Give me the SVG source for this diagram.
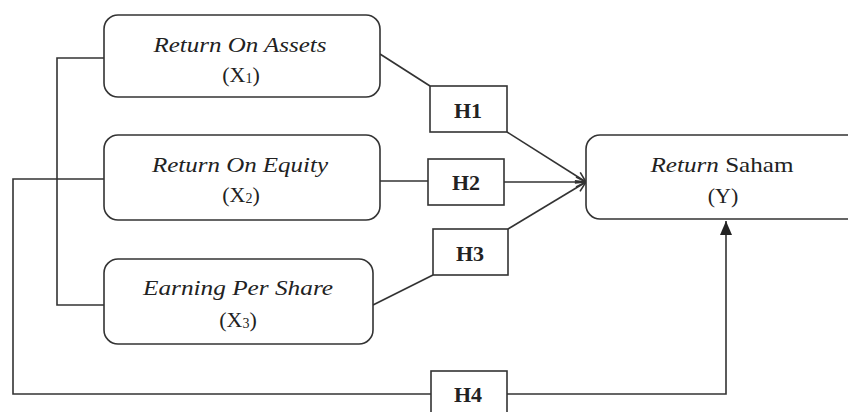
<svg xmlns="http://www.w3.org/2000/svg" width="848" height="412" viewBox="0 0 848 412">
<defs>
<style>
.box{fill:#fff;stroke:#333;stroke-width:1.6}
.ln{fill:none;stroke:#333;stroke-width:1.6}
.t{font-family:"Liberation Serif","Times New Roman",serif;font-size:22px;fill:#222;text-anchor:middle}
.i{font-style:italic}
.h{font-family:"Liberation Serif","Times New Roman",serif;font-size:22px;font-weight:bold;fill:#222;text-anchor:middle}
.sub{font-size:14px}
</style>
<marker id="open" viewBox="0 0 12 12" refX="11" refY="6" markerWidth="12" markerHeight="12" markerUnits="userSpaceOnUse" orient="auto">
<path d="M1,1 L11,6 L1,11" fill="none" stroke="#333" stroke-width="1.6"/>
</marker>
<marker id="fill" viewBox="0 0 14 12" refX="14" refY="6" markerWidth="14" markerHeight="12" markerUnits="userSpaceOnUse" orient="auto">
<path d="M0,0 L14,6 L0,12 Z" fill="#222"/>
</marker>
</defs>
<rect width="848" height="412" fill="#fff"/>
<g id="connectors">
<path class="ln" d="M104,58 H57 V305 H104"/>
<path class="ln" d="M104,179 H13 V394 H726 V221" marker-end="url(#fill)"/>
<line class="ln" x1="380" y1="54" x2="430" y2="86"/>
<line class="ln" x1="507" y1="132" x2="586" y2="182" marker-end="url(#open)"/>
<line class="ln" x1="380" y1="181" x2="428" y2="181"/>
<line class="ln" x1="504" y1="182" x2="586" y2="182" marker-end="url(#open)"/>
<line class="ln" x1="373" y1="305" x2="433" y2="275"/>
<line class="ln" x1="508" y1="229" x2="586" y2="182" marker-end="url(#open)"/>
</g>
<g id="roa">
<rect class="box" x="104" y="15" width="276" height="82" rx="14"/>
<text class="t i" x="240" y="52" textLength="173" lengthAdjust="spacingAndGlyphs">Return On Assets</text>
<text class="t" x="241" y="82">(X<tspan class="sub" dy="1">1</tspan><tspan dy="-1">)</tspan></text>
</g>
<g id="roe">
<rect class="box" x="104" y="135" width="276" height="85" rx="14"/>
<text class="t i" x="240" y="172" textLength="176" lengthAdjust="spacingAndGlyphs">Return On Equity</text>
<text class="t" x="241" y="202">(X<tspan class="sub" dy="1">2</tspan><tspan dy="-1">)</tspan></text>
</g>
<g id="eps">
<rect class="box" x="104" y="259" width="269" height="85" rx="14"/>
<text class="t i" x="238" y="295" textLength="190" lengthAdjust="spacingAndGlyphs">Earning Per Share</text>
<text class="t" x="238" y="327">(X<tspan class="sub" dy="1">3</tspan><tspan dy="-1">)</tspan></text>
</g>
<g id="saham">
<rect class="box" x="586" y="135" width="280" height="84" rx="14"/>
<text class="t" x="722" y="172" textLength="143" lengthAdjust="spacingAndGlyphs"><tspan class="i">Return</tspan> Saham</text>
<text class="t" x="723" y="203">(Y)</text>
</g>
<g id="h1">
<rect class="box" x="430" y="86" width="77" height="46"/>
<text class="h" x="468" y="118">H1</text>
</g>
<g id="h2">
<rect class="box" x="428" y="159" width="76" height="46"/>
<text class="h" x="466" y="190">H2</text>
</g>
<g id="h3">
<rect class="box" x="433" y="229" width="75" height="46"/>
<text class="h" x="470" y="261">H3</text>
</g>
<g id="h4">
<rect class="box" x="431" y="371" width="76" height="50"/>
<text class="h" x="468" y="402">H4</text>
</g>
</svg>
